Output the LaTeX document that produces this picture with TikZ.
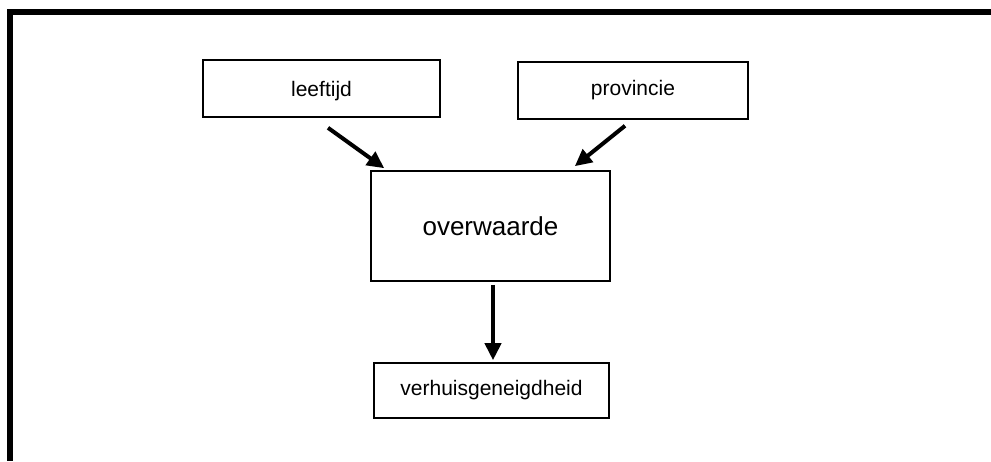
\documentclass[tikz,border=0pt]{standalone}
\usepackage{fontspec}
\setmainfont{Liberation Sans}
\usetikzlibrary{arrows.meta, positioning, calc}
\tikzset{
  frame_line/.style={line width=3pt, line join=miter},
  box_factor/.style={draw=black, line width=0.8pt, fill=white, inner sep=0pt, align=center, font=\fontsize{10.5}{12}\selectfont},
  box_central/.style={box_factor, font=\fontsize{13}{15}\selectfont},
  dep_arrow/.style={line width=2pt, -{Triangle[length=8.5pt, width=8pt]}}
}

\begin{document}
\begin{tikzpicture}[x=0.5pt, y=-0.5pt]
\useasboundingbox (0,0) rectangle (991,461);
% open frame: top and left edge only
\draw[frame_line] (991,12) -- (10,12) -- (10,461);
\node[box_factor, text depth=0pt, minimum width=118.5pt, minimum height=28.5pt] (leeftijd_node) at (321.5,88.5) {leeftijd};
\node[box_factor, minimum width=115pt, minimum height=28.5pt] (provincie_node) at (633,90.5) {provincie};
\node[box_central, minimum width=119.5pt, minimum height=55pt] (overwaarde_node) at (490.5,226) {overwaarde};
\node[box_factor, minimum width=117.5pt, minimum height=27.5pt] (verhuis_node) at (491.5,390.5) {verhuisgeneigdheid};
\draw[dep_arrow] ($(leeftijd_node.south)+(6.5,10)$) -- ($(overwaarde_node.north west)+(14,-2)$);
\draw[dep_arrow] ($(provincie_node.south)+(-8,6)$) -- ($(overwaarde_node.north east)+(-36,-4)$);
\draw[dep_arrow] ($(overwaarde_node.south)+(2.5,3)$) -- ($(verhuis_node.north)+(1.5,-2)$);
\end{tikzpicture}
\end{document}
